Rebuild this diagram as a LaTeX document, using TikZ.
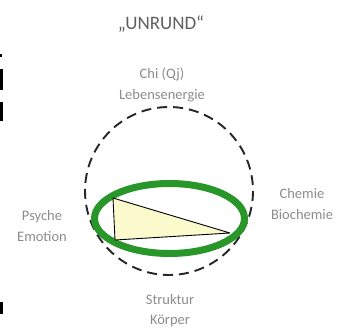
\documentclass[tikz,border=0pt]{standalone}
\usepackage{fontspec}
\setmainfont{Carlito}
\definecolor{ringgreen}{RGB}{40,150,40}
\definecolor{labelgray}{RGB}{140,140,140}
\definecolor{titlegray}{RGB}{95,95,95}
\definecolor{trifill}{RGB}{250,250,205}
\begin{document}
\begin{tikzpicture}[x=1pt,y=-1pt,
  lbl/.style={text=labelgray,font=\fontsize{14.5}{21}\selectfont,align=center,inner sep=0pt},
  ttl/.style={text=titlegray,font=\fontsize{19}{22}\selectfont,inner sep=0pt},
  dashring/.style={draw=black!85,line width=1.9pt,dash pattern=on 10pt off 6pt},
  greenring/.style={draw=ringgreen,line width=7pt},
  frag/.style={fill=black}]
\useasboundingbox (0,0) rectangle (351,329);
% cut-off fragments at left edge
\fill[frag] (0,54) rectangle (1.5,57);
\fill[frag] (0,69) rectangle (3,90);
\fill[frag] (0,102) rectangle (3,121);
\fill[frag] (0,302) rectangle (3,314);
% title
\node[ttl] (title) at (161,24) {„UNRUND“};
% rings
\draw[dashring] (169,191) circle[radius=84];
\draw[greenring] (169.5,218.5) ellipse[x radius=75,y radius=35];
% triangle
\coordinate (ta) at (113,198);
\coordinate (tb) at (115,240);
\coordinate (tc) at (230,233);
\draw[fill=trifill,draw=black,line width=0.9pt,line join=round] (ta) -- (tc) -- (tb) -- cycle;
% labels
\node[lbl] (chi) at (162,85) {Chi (Qj)\\Lebensenergie};
\node[lbl] (psy) at (42,226) {Psyche\\Emotion};
\node[lbl] (chem) at (302,204) {Chemie\\Biochemie};
\node[lbl,font=\fontsize{14.5}{20}\selectfont] (str) at (170,311) {Struktur\\Körper};
\end{tikzpicture}
\end{document}
